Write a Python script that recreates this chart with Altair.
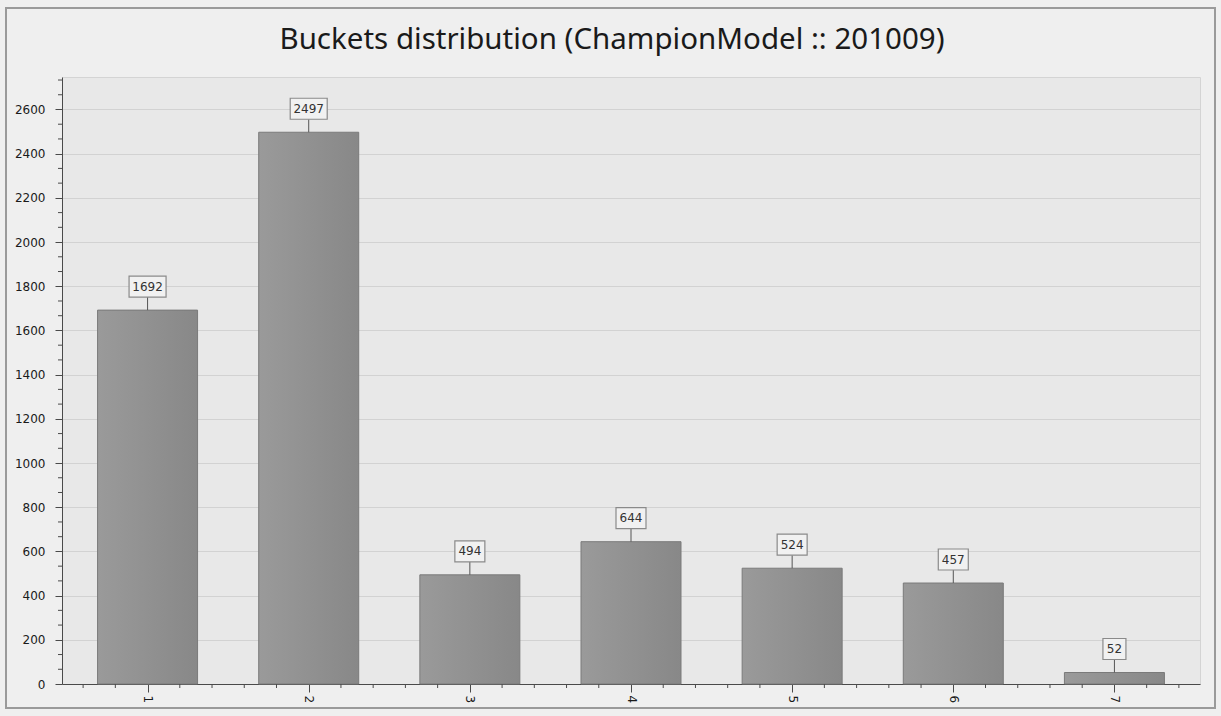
import altair as alt
import pandas as pd

# Bucket counts for the champion model, period 201009
buckets = [1, 2, 3, 4, 5, 6, 7]
counts = [1692, 2497, 494, 644, 524, 457, 52]
y_tick_values = [0, 200, 400, 600, 800, 1000, 1200, 1400, 1600, 1800, 2000, 2200, 2400, 2600]

title_text = "Buckets distribution (ChampionModel :: 201009)"

df = pd.DataFrame({"bucket": buckets, "count": counts,
                   "label": [str(c) for c in counts]})

# minor tick positions (x: every 0.2 of a bucket, y: every third of a grid step)
x_minor = [round(i * 0.2 + 0.6, 2) for i in range(35) if abs((i * 0.2 + 0.6) - round(i * 0.2 + 0.6)) > 1e-6]
y_minor = [round(i * 200 / 3, 2) for i in range(42) if i % 3 != 0]

Y_MAX = 2747
W, H = 1138, 607
AXIS_COLOR = "#4a4a4a"
FONT = "DejaVu Sans"

x_scale = alt.Scale(domain=[0.5, 7.5], nice=False, zero=False)
y_scale = alt.Scale(domain=[0, Y_MAX], nice=False)

x_axis = alt.Axis(values=buckets, labelAngle=90, title=None, grid=False, format="d",
                  tickSize=8, tickColor=AXIS_COLOR, domainColor=AXIS_COLOR,
                  labelFont=FONT, labelFontSize=12, labelColor="#1a1a1a",
                  labelPadding=3)
y_axis = alt.Axis(values=y_tick_values, title=None, grid=True, format="d",
                  gridColor="#d2d2d2", gridWidth=1,
                  tickSize=7, tickColor=AXIS_COLOR, domainColor=AXIS_COLOR,
                  labelFont=FONT, labelFontSize=12, labelColor="#1a1a1a",
                  labelPadding=10)

bar_fill = alt.Gradient(
    gradient="linear",
    stops=[alt.GradientStop(color="#9a9a9a", offset=0),
           alt.GradientStop(color="#888888", offset=1)],
    x1=0, x2=1, y1=0, y2=0,
)

base = alt.Chart(df)

bars = base.mark_bar(width=100, fill=bar_fill, stroke="#7a7a7a", strokeWidth=1).encode(
    x=alt.X("bucket:Q", scale=x_scale, axis=x_axis),
    y=alt.Y("count:Q", scale=y_scale, axis=y_axis),
)

x_minor_ticks = alt.Chart(pd.DataFrame({"v": x_minor})).mark_rule(
    color=AXIS_COLOR, strokeWidth=1).encode(
    x=alt.X("v:Q", scale=x_scale, axis=x_axis),
    y=alt.value(H), y2=alt.value(H + 4),
)

y_minor_ticks = alt.Chart(pd.DataFrame({"v": y_minor})).mark_rule(
    color=AXIS_COLOR, strokeWidth=1).encode(
    y=alt.Y("v:Q", scale=y_scale, axis=y_axis),
    x=alt.value(-4), x2=alt.value(0),
)

# value callouts: connector line, bordered box, number
connectors = base.mark_rule(color="#555", strokeWidth=1, y2Offset=-13).encode(
    x=alt.X("bucket:Q", scale=x_scale, axis=x_axis),
    y=alt.Y("count:Q", scale=y_scale, axis=y_axis),
    y2="count:Q",
)

boxes = [
    base.transform_filter(f"length(datum.label) == {n}").mark_rect(
        width=7 * n + 9, height=21, yOffset=-23.5,
        fill="#f1f1f1", stroke="#8a8a8a", strokeWidth=1.2,
    ).encode(
        x=alt.X("bucket:Q", scale=x_scale, axis=x_axis),
        y=alt.Y("count:Q", scale=y_scale, axis=y_axis),
    )
    for n in (2, 3, 4)
]

labels = base.mark_text(dy=-23.5, baseline="middle", align="center",
                        font=FONT, fontSize=12, color="#333").encode(
    x=alt.X("bucket:Q", scale=x_scale, axis=x_axis),
    y=alt.Y("count:Q", scale=y_scale, axis=y_axis),
    text="label:N",
)

# chart heading and outer frame, placed in pixels relative to the plot area
heading = alt.Chart(pd.DataFrame({"t": [title_text]})).mark_text(
    font="Noto Sans", fontSize=29.5, color="#1a1a1a", align="center", baseline="alphabetic",
).encode(x=alt.value(550), y=alt.value(-28), text="t:N")

frame = alt.Chart(pd.DataFrame({"a": [0]})).mark_rect(
    fill="transparent", stroke="#9a9a9a", strokeWidth=2).encode(
    x=alt.value(-56), x2=alt.value(1153), y=alt.value(-69), y2=alt.value(631),
)

chart = alt.layer(
    frame, heading, bars, x_minor_ticks, y_minor_ticks, connectors, *boxes, labels,
).properties(
    width=W, height=H,
    autosize=alt.AutoSizeParams(type="none"),
    padding={"left": 62, "top": 77, "right": 21, "bottom": 32},
    background="#efefef",
).configure_view(
    fill="#e8e8e8", stroke="#d4d4d4",
)

chart.save("out.html", embed_options={"renderer": "svg", "actions": False})
